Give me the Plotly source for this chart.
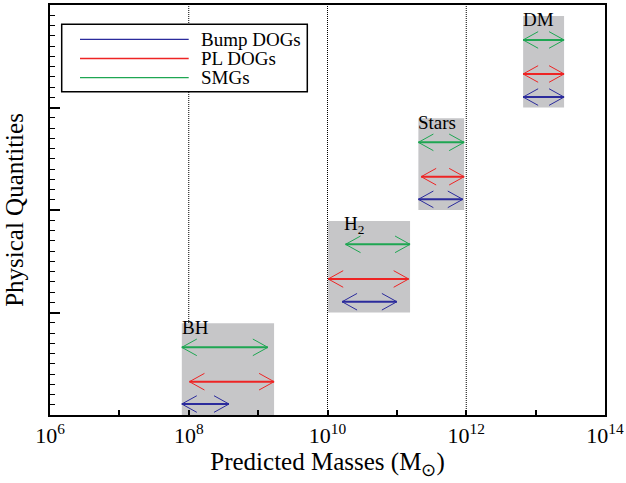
import plotly.graph_objects as go

# ---------------- data ----------------
quantities = ["BH", "H<sub>2</sub>", "Stars", "DM"]
# log10 mass ranges of the gray boxes
box_lo = [7.90, 10.01, 11.31, 12.82]
box_hi = [9.23, 11.19, 11.97, 13.41]
box_bottom = [0.0, 1.0, 2.0, 3.0]
box_top = [0.895, 1.893, 2.894, 3.893]

# arrow ranges (log10 M) per sample
bump_lo = [7.90, 10.21, 11.31, 12.82]
bump_hi = [8.58, 11.00, 11.95, 13.41]
bump_y = [0.107, 1.105, 2.104, 3.102]

pl_lo = [8.01, 10.01, 11.35, 12.82]
pl_hi = [9.23, 11.17, 11.97, 13.41]
pl_y = [0.325, 1.327, 2.325, 3.327]

smg_lo = [7.90, 10.26, 11.31, 12.82]
smg_hi = [9.14, 11.19, 11.97, 13.41]
smg_y = [0.66, 1.665, 2.66, 3.659]

series_names = ["Bump DOGs", "PL DOGs", "SMGs"]
series_colors = ["#2b2b9c", "#ee2424", "#1ea652"]

label_decades = [6, 8, 10, 12, 14]
minor_decades = [7, 9, 11, 13]
divider_decades = [8, 10, 12]

# ---------------- layout geometry ----------------
W, H = 626, 483
ML, MR, MT, MB = 50, 21, 5, 68
plot_w = W - ML - MR
plot_h = H - MT - MB
xr = (6, 14)
yr = (0, 4)
px_per_dec = plot_w / (xr[1] - xr[0])
px_per_y = plot_h / (yr[1] - yr[0])
head_len_px, head_half_px = 15, 8.3
hl = head_len_px / px_per_dec
hh = head_half_px / px_per_y

def pxx(px):
    return (px - ML) / plot_w

def pxy(py):
    return (H - MB - py) / plot_h

SERIF = "Liberation Serif"
fig = go.Figure()

# vertical dotted dividers
for d in divider_decades:
    fig.add_shape(type="line", xref="x", yref="paper", x0=10**d, x1=10**d, y0=0, y1=1,
                  line=dict(color="black", width=1, dash="1px,1px"), layer="below")

# gray boxes
for lo, hi, b, t in zip(box_lo, box_hi, box_bottom, box_top):
    fig.add_shape(type="rect", xref="x", yref="y", x0=10**lo, x1=10**hi, y0=b, y1=t,
                  fillcolor="#c6c6c8", line=dict(width=0), layer="below")

# labels
for i, (q, lo, t) in enumerate(zip(quantities, box_lo, box_top)):
    xshift = 16 if i == 1 else 0
    fig.add_annotation(x=lo, y=t, xref="x", yref="y", text=q, showarrow=False,
                       xanchor="left", yanchor="middle", xshift=xshift - 2, yshift=-4,
                       font=dict(family=SERIF, size=19, color="black"))

def arrow_traces(los, his, ys, name, color):
    sx, sy, hx, hy = [], [], [], []
    for lo, hi, y in zip(los, his, ys):
        sx += [10**lo, 10**hi, None]
        sy += [y, y, None]
        hx += [10**(lo + hl), 10**lo, 10**(lo + hl), None,
               10**(hi - hl), 10**hi, 10**(hi - hl), None]
        hy += [y + hh, y, y - hh, None, y + hh, y, y - hh, None]
    shaft = go.Scatter(x=sx, y=sy, mode="lines", name=name, showlegend=False,
                       line=dict(color=color, width=2))
    heads = go.Scatter(x=hx, y=hy, mode="lines", showlegend=False,
                       line=dict(color=color, width=1), hoverinfo="skip")
    return shaft, heads

for los, his, ys, nm, col in zip([bump_lo, pl_lo, smg_lo], [bump_hi, pl_hi, smg_hi],
                                 [bump_y, pl_y, smg_y], series_names, series_colors):
    s, h = arrow_traces(los, his, ys, nm, col)
    fig.add_trace(s)
    fig.add_trace(h)

# manual legend box
fig.add_shape(type="rect", xref="paper", yref="paper", x0=pxx(61.7), x1=pxx(307.3),
              y0=pxy(91.7), y1=pxy(24.3), line=dict(color="black", width=1.5),
              fillcolor="white", layer="above")
leg_rows = [39.3, 58.5, 77.7]
for nm, col, ry in zip(series_names, series_colors, leg_rows):
    fig.add_shape(type="line", xref="paper", yref="paper", x0=pxx(80), x1=pxx(188.7),
                  y0=pxy(ry), y1=pxy(ry), line=dict(color=col, width=1.3), layer="above")
    fig.add_annotation(x=pxx(199), y=pxy(ry), xref="paper", yref="paper", text=nm,
                       showarrow=False, xanchor="left", yanchor="middle",
                       font=dict(family=SERIF, size=19, color="black"))

tickvals = [10**d for d in label_decades]
ticktext = [f"10<sup>{d}</sup>" for d in label_decades]
minorvals = [10**d for d in minor_decades]

xcommon = dict(type="log", range=list(xr), tickvals=tickvals,
               ticks="inside", ticklen=5, tickwidth=1.5, tickcolor="black",
               minor=dict(tickvals=minorvals, ticks="inside", ticklen=5, tickwidth=1.5,
                          tickcolor="black", showgrid=False),
               showgrid=False, zeroline=False, automargin=False)
ycommon = dict(range=list(yr), dtick=1, ticks="inside", ticklen=10, tickwidth=1.5,
               tickcolor="black",
               minor=dict(dtick=0.1, ticks="inside", ticklen=5, tickwidth=1,
                          tickcolor="black", showgrid=False),
               showgrid=False, zeroline=False, automargin=False)

fig.update_layout(
    width=W, height=H,
    margin=dict(l=ML, r=MR, t=MT, b=MB),
    paper_bgcolor="white", plot_bgcolor="white",
    font=dict(family=SERIF, color="black"),
    showlegend=False,
    xaxis=dict(**xcommon, ticktext=ticktext,
               showline=True, linecolor="black", linewidth=2, mirror=True,
               tickfont=dict(family=SERIF, size=22, color="black"),
               title=dict(text="Predicted Masses (M<sub>⊙</sub>)", standoff=2,
                          font=dict(family=SERIF, size=25, color="black"))),
    xaxis2=dict(**xcommon, overlaying="x", side="top", anchor="y",
                showticklabels=False, showline=False),
    yaxis=dict(**ycommon, showticklabels=False,
               showline=True, linecolor="black", linewidth=2, mirror=True,
               title=dict(text="Physical Quantities", standoff=17,
                          font=dict(family=SERIF, size=25, color="black"))),
    yaxis2=dict(**ycommon, overlaying="y", side="right", anchor="x",
                showticklabels=False, showline=False),
)

fig.write_html("out.html", config={"displayModeBar": False},
               post_script="document.body.style.margin='0';document.body.style.padding='0';")
